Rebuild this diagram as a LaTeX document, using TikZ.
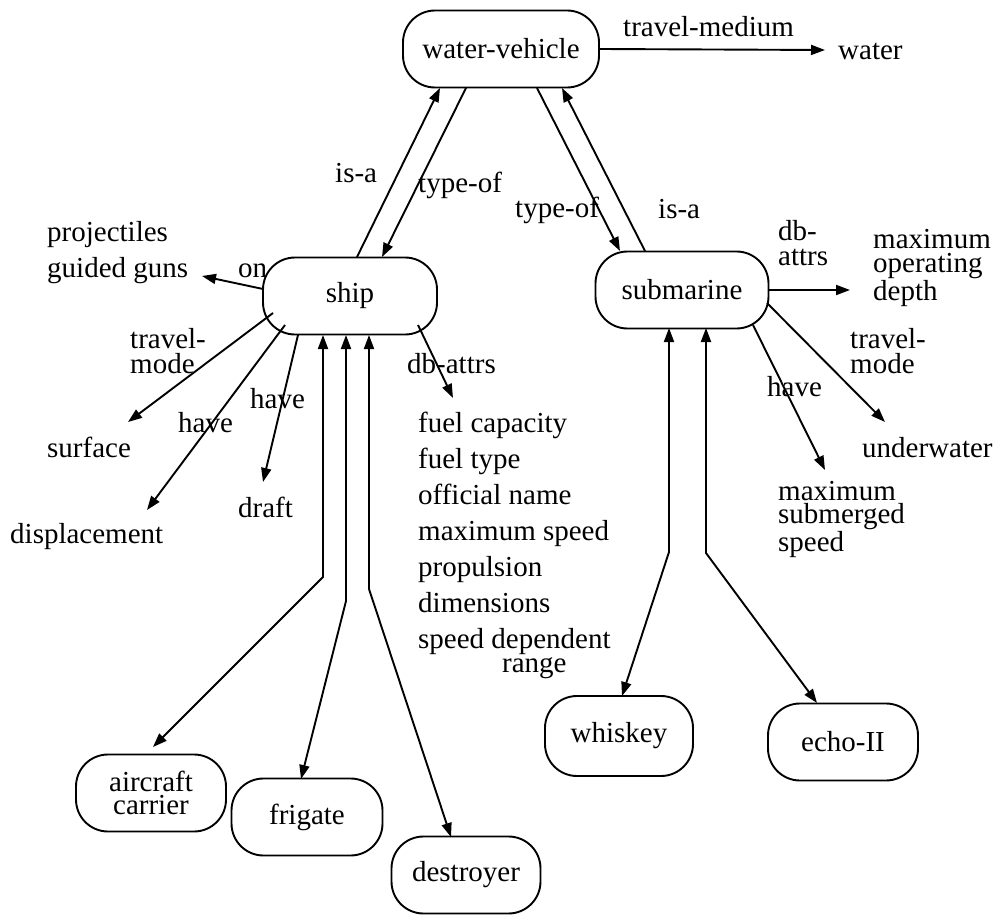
\documentclass[tikz,border=0pt]{standalone}
\usepackage{fontspec}
\setmainfont{Liberation Serif}
\usetikzlibrary{arrows.meta}
\begin{document}
\begin{tikzpicture}[x=1pt,y=-1pt,
  every node/.style={font=\fontsize{29}{24}\selectfont, inner sep=0pt},
  concept/.style={draw, line width=1.9pt, rounded corners=32pt,
    minimum width=#1, minimum height=77pt, align=center},
  lbl/.style={anchor=base west, align=left},
  link/.style={line width=1.9pt, -{Triangle[length=14pt,width=10pt]}},
  twoway/.style={line width=1.9pt,
    {Triangle[length=14pt,width=10pt]}-{Triangle[length=14pt,width=10pt]}},
]
\useasboundingbox (0,0) rectangle (998,915);

% concept nodes
\node[concept=196pt] (wv) at (501,49) {water-vehicle};
\node[concept=174pt] (ship) at (350,296) {ship};
\node[concept=173pt] (sub) at (682,290) {submarine};
\node[concept=150pt, font=\fontsize{29}{23}\selectfont] (carrier) at (151,793) {aircraft\\carrier};
\node[concept=151pt] (frigate) at (307,817) {frigate};
\node[concept=149pt] (destroyer) at (466,875) {destroyer};
\node[concept=148pt, minimum height=80pt] (whiskey) at (619,736) {whiskey};
\node[concept=150pt] (echo) at (843,742) {echo-II};

% value texts (base = baseline of the last line)
\node[lbl] (water) at (838,60) {water};
\node[lbl, font=\fontsize{29}{36}\selectfont] (guns) at (47,277) {projectiles\\guided guns};
\node[lbl] (surface) at (47,457) {surface};
\node[lbl] (displacement) at (10,543) {displacement};
\node[lbl] (draft) at (238,517) {draft};
\node[lbl, font=\fontsize{29}{36}\selectfont] (shipattrs) at (418,672)
  {fuel capacity\\fuel type\\official name\\maximum speed\\propulsion\\dimensions\\speed dependent\\[-12pt]\hspace*{84pt}range};
\node[lbl] (depth) at (873,300) {maximum\\operating\\depth};
\node[lbl] (underwater) at (862,457) {underwater};
\node[lbl, font=\fontsize{29}{23}\selectfont] (subspeed) at (778,551) {maximum\\submerged\\speed};

% relation labels
\node[lbl] (lmedium) at (623,37) {travel-medium};
\node[lbl] (lisa1) at (335,182) {is-a};
\node[lbl] (ltype1) at (418,192) {type-of};
\node[lbl] (ltype2) at (515,217) {type-of};
\node[lbl] (lisa2) at (658,218) {is-a};
\node[lbl] (lon) at (238,277) {on};
\node[lbl, font=\fontsize{29}{25}\selectfont] (lmode1) at (130,373) {travel-\\mode};
\node[lbl] (lhave1) at (178,432) {have};
\node[lbl] (lhave2) at (250,408) {have};
\node[lbl] (lattrs1) at (407,373) {db-attrs};
\node[lbl, font=\fontsize{29}{25}\selectfont] (lattrs2) at (778,265) {db-\\attrs};
\node[lbl, font=\fontsize{29}{25}\selectfont] (lmode2) at (850,373) {travel-\\mode};
\node[lbl] (lhave3) at (767,396) {have};

% arrow tips and bends
\coordinate (tWater) at (825,50);
\coordinate (tGuns) at (202,276);
\coordinate (tSurface) at (128,422);
\coordinate (tDisp) at (147,510);
\coordinate (tDraft) at (263,482);
\coordinate (tAttrs) at (453,398);
\coordinate (tDepth) at (850,290);
\coordinate (tUnder) at (885,422);
\coordinate (tSpeed) at (825,470);
\coordinate (bCarrier) at (323,577);
\coordinate (bFrigate) at (346,601);
\coordinate (bDestroyer) at (369,589);
\coordinate (bWhiskey) at (669,552);
\coordinate (bEcho) at (706,553);

% water-vehicle
\draw[link] (wv.east) -- (tWater);
\draw[link] ([shift={(7,-39)}]ship.center) -- ([shift={(-61,39)}]wv.center);
\draw[link] ([shift={(-35,39)}]wv.center) -- ([shift={(32,-39)}]ship.center);
\draw[link] ([shift={(36,39)}]wv.center) -- ([shift={(-62,-39)}]sub.center);
\draw[link] ([shift={(-37,-39)}]sub.center) -- ([shift={(61,39)}]wv.center);

% ship
\draw[link] ([shift={(-87,-7)}]ship.center) -- (tGuns);
\draw[link] ([shift={(-77,17)}]ship.center) -- (tSurface);
\draw[link] ([shift={(-65,29)}]ship.center) -- (tDisp);
\draw[link] ([shift={(-52,39)}]ship.center) -- (tDraft);
\draw[link] ([shift={(68,29)}]ship.center) -- (tAttrs);
\draw[twoway] ([shift={(-27,39)}]ship.center) -- (bCarrier) -- ([shift={(2,-46)}]carrier.center);
\draw[twoway] ([shift={(-4,39)}]ship.center) -- (bFrigate) -- ([shift={(-6,-38)}]frigate.center);
\draw[twoway] ([shift={(19,39)}]ship.center) -- (bDestroyer) -- ([shift={(-15,-38)}]destroyer.center);

% submarine
\draw[link] (sub.east) -- (tDepth);
\draw[link] ([shift={(85,13)}]sub.center) -- (tUnder);
\draw[link] ([shift={(71,35)}]sub.center) -- (tSpeed);
\draw[twoway] ([shift={(-13,38)}]sub.center) -- (bWhiskey) -- ([shift={(3,-40)}]whiskey.center);
\draw[twoway] ([shift={(24,38)}]sub.center) -- (bEcho) -- ([shift={(-26,-39)}]echo.center);
\end{tikzpicture}
\end{document}
